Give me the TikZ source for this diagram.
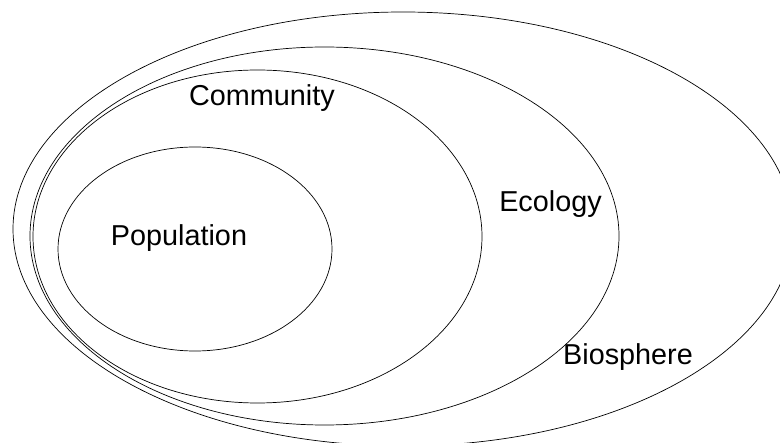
\documentclass[tikz,border=0pt]{standalone}
\usepackage{fontspec}
\setmainfont{Liberation Sans}
\usepackage{tikz}

\begin{document}
\begin{tikzpicture}[x=1pt,y=-1pt]
  \useasboundingbox (0,0) rectangle (780,443);
  \foreach \cx/\cy/\rx/\ry in {403/229/390/217, 324.5/236/294.5/189, 257.5/236.5/224.5/166.5, 195/249/137/102}{
    \draw[line width=0.7pt] (\cx,\cy) ellipse ({\rx pt} and {\ry pt});
  }
  \foreach \name/\x/\y/\txt in {pop/179/246/Population, comm/262/106/Community, eco/550.5/212/Ecology, bio/628/365/Biosphere}{
    \node[anchor=base, inner sep=0pt, font=\fontsize{28.8}{34}\selectfont] (\name) at (\x,\y) {\txt};
  }
\end{tikzpicture}
\end{document}
